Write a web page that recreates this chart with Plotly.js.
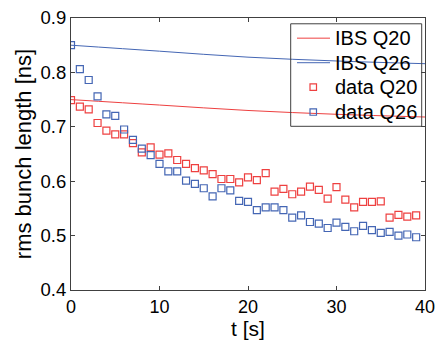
<!DOCTYPE html>
<html>
<head>
<meta charset="utf-8">
<script src="https://cdn.plot.ly/plotly-3.0.1.min.js"></script>
<style>html,body{margin:0;padding:0;background:#fff;}#plot{width:435px;height:340px;}</style>
</head>
<body>
<div id="plot"></div>
<script>
const tData = [0,1,2,3,4,5,6,7,8,9,10,11,12,13,14,15,16,17,18,19,20,21,22,23,24,25,26,27,28,29,30,31,32,33,34,35,36,37,38,39];
const dataQ20 = [0.749,0.737,0.732,0.707,0.693,0.686,0.686,0.670,0.653,0.662,0.649,0.651,0.639,0.632,0.624,0.620,0.613,0.604,0.604,0.598,0.607,0.602,0.615,0.581,0.586,0.576,0.581,0.590,0.584,0.568,0.589,0.566,0.552,0.562,0.562,0.563,0.533,0.538,0.535,0.537];
const dataQ26 = [0.850,0.806,0.786,0.756,0.723,0.720,0.695,0.676,0.660,0.648,0.632,0.618,0.618,0.601,0.595,0.587,0.572,0.587,0.583,0.564,0.562,0.547,0.552,0.552,0.547,0.533,0.537,0.525,0.522,0.514,0.524,0.516,0.508,0.518,0.510,0.505,0.507,0.500,0.502,0.497];
const tIBS = [0,10,20,30,40];
const ibsQ20 = [0.750,0.740,0.730,0.723,0.718];
const ibsQ26 = [0.850,0.839,0.828,0.821,0.816];
const legendLabels = ['IBS Q20', 'IBS Q26', 'data Q20', 'data Q26'];

const red = '#ee4040';
const blue = '#4466b4';
const colors = [red, blue, red, blue];
const kinds = ['line', 'line', 'marker', 'marker'];

const W = 435, H = 340;
const M = {l: 71, r: 10, t: 17.5, b: 50};
const pw = W - M.l - M.r, ph = H - M.t - M.b;
const px = x => (x - M.l) / pw;          // pixel -> paper x
const py = y => (H - M.b - y) / ph;      // pixel -> paper y

const traces = [
  {x: tIBS, y: ibsQ20, mode: 'lines', name: legendLabels[0], line: {color: red, width: 1, shape: 'spline'}},
  {x: tIBS, y: ibsQ26, mode: 'lines', name: legendLabels[1], line: {color: blue, width: 1, shape: 'spline'}},
  {x: tData, y: dataQ20, mode: 'markers', name: legendLabels[2], marker: {symbol: 'square-open', size: 7, color: red, line: {width: 1.2, color: red}}},
  {x: tData, y: dataQ26, mode: 'markers', name: legendLabels[3], marker: {symbol: 'square-open', size: 7, color: blue, line: {width: 1.2, color: blue}}}
];

const font = {family: 'Liberation Sans, Arial, sans-serif', color: '#000'};

// Manual legend (box + samples + labels); box is transparent like the reference
const legBox = {x0: 290.7, x1: 421.7, y0: 23.3, y1: 126};
const rowY = [37.7, 62.3, 86.7, 111.7];
const shapes = [{
  type: 'rect', xref: 'paper', yref: 'paper',
  x0: px(legBox.x0), x1: px(legBox.x1), y0: py(legBox.y1), y1: py(legBox.y0),
  line: {color: '#404040', width: 1}, fillcolor: 'rgba(0,0,0,0)', layer: 'above'
}];
const annotations = [];
legendLabels.forEach((lab, i) => {
  const y = rowY[i];
  if (kinds[i] === 'line') {
    shapes.push({type: 'line', xref: 'paper', yref: 'paper', x0: px(297), x1: px(330), y0: py(y), y1: py(y), line: {color: colors[i], width: 1}, layer: 'above'});
  } else {
    shapes.push({type: 'rect', xref: 'paper', yref: 'paper', x0: px(310), x1: px(316.5), y0: py(y + 3.25), y1: py(y - 3.25), line: {color: colors[i], width: 1.2}, fillcolor: 'rgba(0,0,0,0)', layer: 'above'});
  }
  annotations.push({xref: 'paper', yref: 'paper', x: px(333), y: py(y), xanchor: 'left', yanchor: 'middle', text: lab, showarrow: false, font: Object.assign({size: 20}, font)});
});

const layout = {
  width: W, height: H,
  margin: {l: M.l, r: M.r, t: M.t, b: M.b, pad: 0},
  paper_bgcolor: '#fff', plot_bgcolor: '#fff',
  font: Object.assign({size: 18.5}, font),
  showlegend: false,
  shapes: shapes,
  annotations: annotations,
  xaxis: {
    range: [0, 40], dtick: 10, tick0: 0,
    showgrid: false, zeroline: false,
    showline: true, linecolor: '#404040', linewidth: 1, mirror: 'ticks',
    ticks: 'inside', ticklen: 4, tickcolor: '#404040',
    ticklabeloverflow: 'allow',
    tickfont: Object.assign({size: 18}, font),
    title: {text: 't [s]', font: Object.assign({size: 21}, font), standoff: 4}
  },
  yaxis: {
    range: [0.4, 0.9], dtick: 0.1, tick0: 0.4, tickformat: '.1f',
    showgrid: false, zeroline: false,
    showline: true, linecolor: '#404040', linewidth: 1, mirror: 'ticks',
    ticks: 'inside', ticklen: 4, tickcolor: '#404040',
    ticklabeloverflow: 'allow',
    tickfont: Object.assign({size: 18.5}, font),
    title: {text: 'rms bunch length [ns]', font: Object.assign({size: 22}, font), standoff: 2}
  }
};

Plotly.newPlot('plot', traces, layout, {staticPlot: true, displayModeBar: false});
</script>
</body>
</html>
